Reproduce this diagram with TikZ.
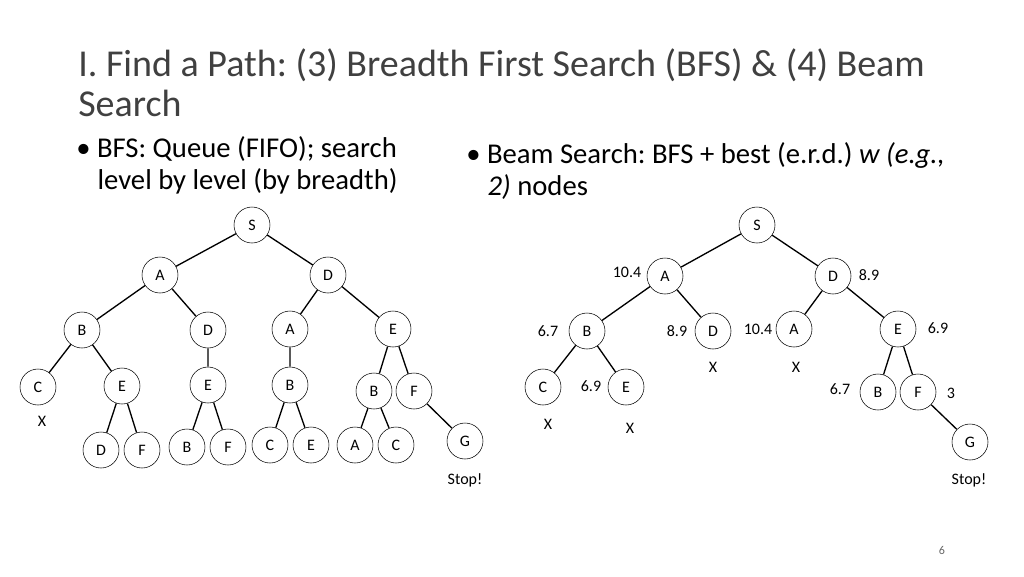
\documentclass[tikz,border=0pt]{standalone}
\usepackage{fontspec}
\setmainfont{Carlito}
\begin{document}
\frenchspacing
\begin{tikzpicture}[x=0.75pt,y=0.75pt,yscale=-1,xscale=1,
  vtx/.style={draw,circle,minimum size=27pt,inner sep=0pt,font=\fontsize{12}{12}\selectfont},
  lbl/.style={inner sep=0.75pt,font=\fontsize{12}{12}\selectfont},
  edge/.style={line width=1pt}]
\useasboundingbox (0,0) rectangle (1024,576);

% Title
\node [anchor=north west,align=left,inner sep=0pt,text=black!75,font=\fontsize{28.5}{30}\selectfont] (title) at (78,48) {I. Find a Path: (3) Breadth First Search (BFS) \& (4) Beam\\Search};
\node [anchor=north west,align=left,inner sep=0pt,font=\fontsize{21.5}{24}\selectfont] (bfs) at (76,136) {\textbullet\ BFS: Queue (FIFO); search\\\hspace*{16pt}level by level (by breadth)};
\node [anchor=north west,align=left,inner sep=0pt,font=\fontsize{21.5}{24}\selectfont] (beam) at (466,142) {\textbullet\ Beam Search: BFS + best (e.r.d.) \textit{w (e.g.,}\\\hspace*{16pt}\textit{2)} nodes};

% Left tree: BFS
\node [vtx] (s) at (252,225) {S};
\node [vtx] (a) at (160,275) {A};
\node [vtx] (d) at (328,275) {D};
\node [vtx] (ab) at (82,330) {B};
\node [vtx] (ad) at (208,330) {D};
\node [vtx] (da) at (290,329) {A};
\node [vtx] (de) at (393,329) {E};
\node [vtx] (abc) at (38,387) {C};
\node [vtx] (abe) at (122,386) {E};
\node [vtx] (ade) at (208,385) {E};
\node [vtx] (dab) at (290,385) {B};
\node [vtx] (deb) at (374,391) {B};
\node [vtx] (def) at (414,391) {F};
\node [vtx] (abed) at (101,450) {D};
\node [vtx] (abef) at (142,450) {F};
\node [vtx] (adeb) at (187,447) {B};
\node [vtx] (adef) at (228,447) {F};
\node [vtx] (dabc) at (270,445) {C};
\node [vtx] (dabe) at (311,445) {E};
\node [vtx] (deba) at (355,445) {A};
\node [vtx] (debc) at (396,445) {C};
\node [vtx] (defg) at (465,441) {G};
\node [lbl] (x1) at (42,421) {X};
\node [lbl] (stop1) at (465,480) {Stop!};
\draw [edge] (s) -- (a) (s) -- (d) (a) -- (ab) (a) -- (ad) (d) -- (da) (d) -- (de)
  (ab) -- (abc) (ab) -- (abe) (ad) -- (ade) (da) -- (dab) (de) -- (deb) (de) -- (def)
  (abe) -- (abed) (abe) -- (abef) (ade) -- (adeb) (ade) -- (adef)
  (dab) -- (dabc) (dab) -- (dabe) (deb) -- (deba) (deb) -- (debc) (def) -- (defg);

% Right tree: beam search
\node [vtx] (rs) at (757,225) {S};
\node [vtx] (ra) at (665,276) {A};
\node [vtx] (rd) at (833,276) {D};
\node [vtx] (rab) at (587,331) {B};
\node [vtx] (rad) at (713,331) {D};
\node [vtx] (rda) at (794,329) {A};
\node [vtx] (rde) at (898,329) {E};
\node [vtx] (rabc) at (543,387) {C};
\node [vtx] (rabe) at (626,387) {E};
\node [vtx] (rdeb) at (878,392) {B};
\node [vtx] (rdef) at (918,392) {F};
\node [vtx] (rdefg) at (970,442) {G};
\draw [edge] (rs) -- (ra) (rs) -- (rd) (ra) -- (rab) (ra) -- (rad) (rd) -- (rda) (rd) -- (rde)
  (rab) -- (rabc) (rab) -- (rabe) (rde) -- (rdeb) (rde) -- (rdef) (rdef) -- (rdefg);
\node [lbl] (wa) at (627,272) {10.4};
\node [lbl] (wd) at (869,275) {8.9};
\node [lbl] (wab) at (548,331) {6.7};
\node [lbl] (wad) at (677,331) {8.9};
\node [lbl] (wda) at (758,329) {10.4};
\node [lbl] (wde) at (938,328) {6.9};
\node [lbl] (wabe) at (591,386) {6.9};
\node [lbl] (wdeb) at (840,389) {6.7};
\node [lbl] (wdef) at (951,393) {3};
\node [lbl] (x2) at (713,367) {X};
\node [lbl] (x3) at (796,367) {X};
\node [lbl] (x4) at (548,424) {X};
\node [lbl] (x5) at (630,428) {X};
\node [lbl] (stop2) at (969,480) {Stop!};

\node [lbl,text=black!60,font=\fontsize{9}{9}\selectfont] (page) at (942,550) {6};
\end{tikzpicture}
\end{document}
